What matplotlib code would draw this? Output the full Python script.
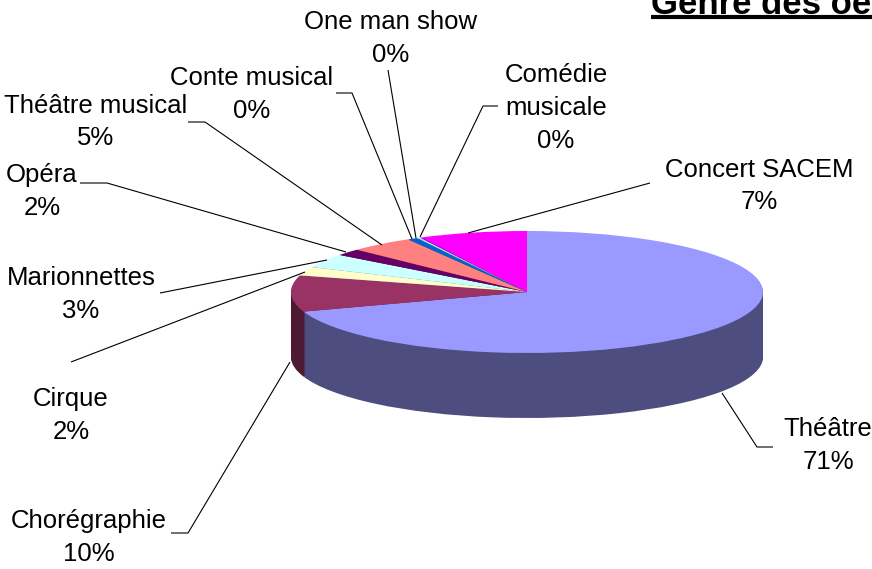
import matplotlib
matplotlib.use('Agg')
import matplotlib.pyplot as plt

plt.rcParams['font.family'] = ['Liberation Sans', 'DejaVu Sans']

# parts, clockwise from the top
genres = ['Théâtre', 'Chorégraphie', 'Cirque', 'Marionnettes', 'Opéra',
          'Théâtre musical', 'Conte musical', 'One man show',
          'Comédie\nmusicale', 'Concert SACEM']
values = [69.8, 9.6, 2.3, 3.7, 1.8, 4.4, 0.7, 0.25, 0.06, 7.4]
pct_labels = ['71%', '10%', '2%', '3%', '2%', '5%', '0%', '0%', '0%', '7%']

top_colors = ['#9999FF', '#993366', '#FFFFCC', '#CCFFFF', '#660066',
              '#FF8080', '#0066CC', '#CCCCFF', '#000080', '#FF00FF']
side_colors = ['#4D4D80', '#4D1A33', '#808066', '#668080', '#330033',
               '#804040', '#003366', '#666680', '#000040', '#800080']

W, H = 872, 569
CX, CY = 527, 292   # pie centre in pixels
RX, RY = 236, 61    # ellipse radii
DEPTH = 65

# label centres and leader lines, in pixels from the top left
label_pos = [(828, 429), (89, 521), (71, 399), (81, 278), (42, 175),
             (96, 106), (252, 78), (391, 22), (556, 75), (759, 170)]
pct_pos = [(828, 462), (89, 554), (71, 432), (81, 311), (42, 208),
           (96, 138), (252, 111), (391, 55), (556, 141), (759, 202)]
leaders = [
    [(722, 393), (757, 447), (773, 447)],
    [(290, 362), (188, 533), (171, 533)],
    [(71, 362), (305, 272)],
    [(160, 293), (327, 260)],
    [(80, 183), (107, 183), (346, 252)],
    [(188, 122), (205, 122), (382, 245)],
    [(336, 93), (352, 93), (412, 239)],
    [(388, 70), (416, 238)],
    [(498, 106), (483, 106), (420, 237)],
    [(650, 183), (468, 233)],
]

fig = plt.figure(figsize=(W / 100, H / 100), dpi=100)

# one data unit = RX px across and RY px down, so the round pie becomes an ellipse
ax = fig.add_axes([0, 0, 1, 1])
for k in range(DEPTH, 0, -1):
    ax.pie(values, colors=side_colors, startangle=90, counterclock=False,
           center=(0, -k / RY), wedgeprops={'linewidth': 0})
ax.pie(values, colors=top_colors, startangle=90, counterclock=False,
       wedgeprops={'linewidth': 0})
ax.set_aspect('auto')
ax.set_xlim(-CX / RX, (W - CX) / RX)
ax.set_ylim((CY - H) / RY, CY / RY)

# overlay in pixel coordinates for the text and the leader lines
over = fig.add_axes([0, 0, 1, 1])
over.set_xlim(0, W)
over.set_ylim(H, 0)
over.axis('off')

for pts in leaders:
    over.plot([p[0] for p in pts], [p[1] for p in pts], color='black', lw=0.8,
              solid_capstyle='butt')

for name, lp, pct, pp in zip(genres, label_pos, pct_labels, pct_pos):
    if '\n' in name:
        first, second = name.split('\n')
        over.text(lp[0], lp[1], first, ha='center', va='center', fontsize=18.5)
        over.text(lp[0], lp[1] + 33, second, ha='center', va='center', fontsize=18.5)
    else:
        over.text(lp[0], lp[1], name, ha='center', va='center', fontsize=18.5)
    over.text(pp[0], pp[1], pct, ha='center', va='center', fontsize=18.5)

# title is cut by the top and right edges of the picture, as in the original
over.text(651, 14, 'Genre des oe', ha='left', va='baseline', fontsize=25,
          fontweight='bold', clip_on=False)
over.plot([651, W], [17, 17], color='black', lw=3, solid_capstyle='butt')

fig.savefig('out.png', dpi=100)
